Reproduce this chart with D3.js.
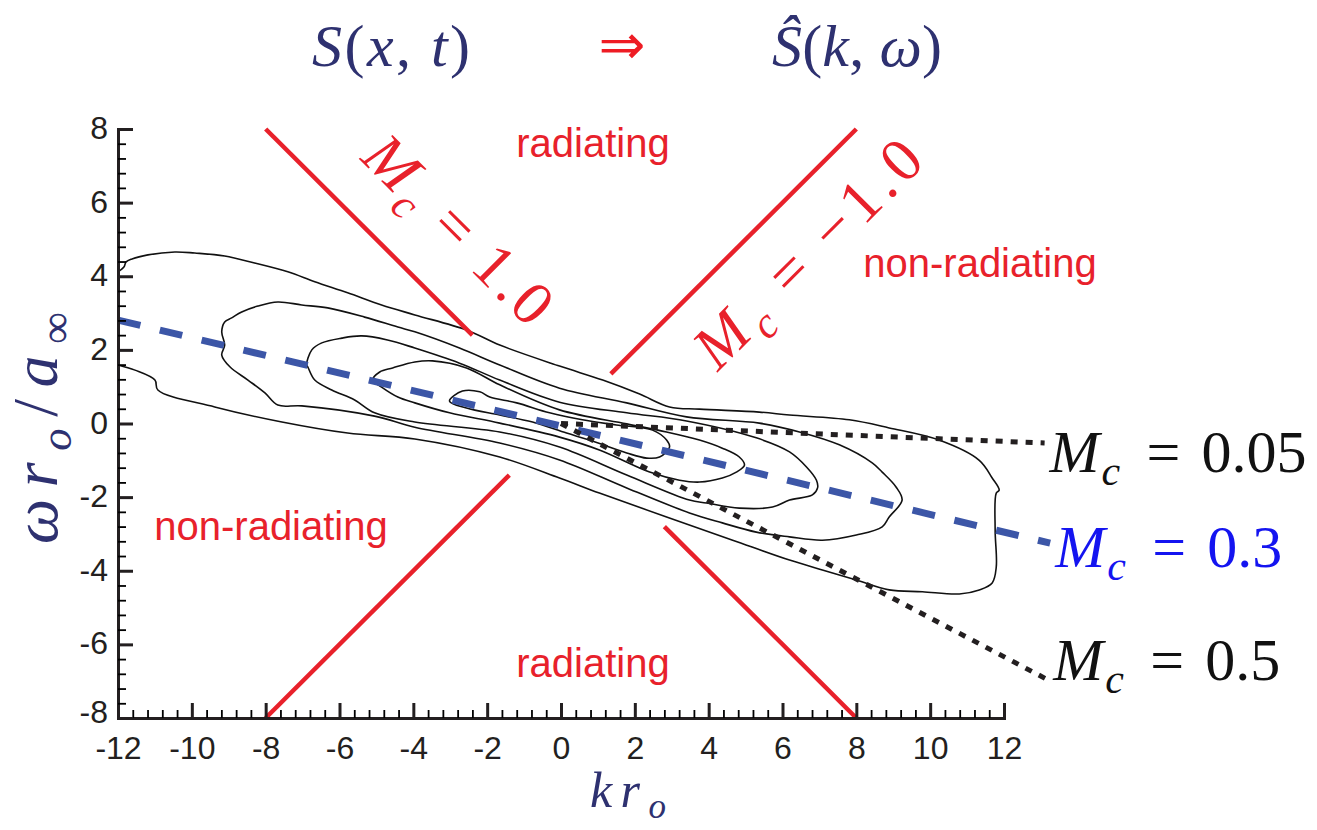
<!DOCTYPE html>
<html>
<head>
<meta charset="utf-8">
<script src="https://cdn.jsdelivr.net/npm/d3@7/dist/d3.min.js"></script>
<style>
  body { margin: 0; background: #fff; }
  svg text { font-family: "Liberation Serif", "Times New Roman", serif; white-space: pre; }
  .tick text { font-family: "Liberation Sans", Arial, sans-serif; font-size: 32px; fill: #231f20; }
  .region { font-family: "Liberation Sans", Arial, sans-serif; font-size: 40px; fill: #e8212b; }
</style>
</head>
<body>
<div id="chart"></div>
<script>
// ===== DATA =====
const kTicks = [-12, -10, -8, -6, -4, -2, 0, 2, 4, 6, 8, 10, 12];
const omegaTicks = [-8, -6, -4, -2, 0, 2, 4, 6, 8];
const minorStep = 0.4;

// contours of |S^(k,w)|, outer -> inner, points are [k r_o, w r_o / a_inf]
const contourOuter = [
  [-12.00, 4.12], [-11.84, 4.25], [-11.78, 4.39], [-11.62, 4.47], [-11.19, 4.58], [-10.46, 4.66],
  [-9.92, 4.63], [-9.11, 4.55], [-8.30, 4.36], [-7.40, 4.12], [-6.67, 3.85], [-5.78, 3.55],
  [-4.86, 3.22], [-3.96, 2.95], [-2.56, 2.54], [-1.66, 2.13], [-0.04, 1.56], [1.13, 1.18],
  [2.13, 0.80], [2.94, 0.45], [3.75, 0.39], [5.37, 0.31], [6.19, 0.23], [7.81, 0.10],
  [8.89, -0.12], [10.24, -0.45], [11.33, -1.00], [11.68, -1.48], [11.87, -1.81], [11.79, -1.89],
  [11.76, -2.89], [11.79, -3.90], [11.68, -4.33], [11.33, -4.52], [10.79, -4.63], [9.79, -4.57],
  [8.89, -4.52], [8.00, -4.25], [7.08, -3.98], [6.19, -3.71], [4.65, -3.17], [2.86, -2.54],
  [1.04, -1.89], [-0.04, -1.48], [-1.66, -0.91], [-3.96, -0.42], [-5.78, -0.26], [-7.56, 0.04],
  [-9.38, 0.45], [-10.92, 0.91], [-11.00, 1.18], [-11.54, 1.45], [-12.00, 1.59]
];
const contourLevel2 = [
  [-9.19, 2.49], [-9.11, 2.76], [-8.92, 2.87], [-8.65, 3.03], [-8.21, 3.19], [-7.67, 3.30],
  [-7.02, 3.22], [-6.32, 3.14], [-5.32, 2.89], [-4.42, 2.62], [-3.96, 2.49], [-2.75, 2.05],
  [-1.66, 1.59], [-0.04, 0.96], [1.78, 0.56], [3.40, 0.18], [5.37, 0.01], [6.46, -0.23],
  [7.54, -0.58], [8.43, -1.07], [8.70, -1.32], [9.08, -1.73], [9.24, -2.08], [8.89, -2.54],
  [8.70, -2.81], [8.00, -3.03], [7.08, -3.17], [6.19, -3.08], [5.29, -2.95], [4.37, -2.70],
  [3.48, -2.43], [1.78, -1.75], [-0.04, -0.99], [-1.66, -0.53], [-3.96, -0.10], [-5.05, 0.20],
  [-7.02, 0.48], [-7.67, 0.50], [-8.02, 0.83], [-8.48, 1.18], [-8.97, 1.54], [-9.19, 1.86],
  [-9.11, 2.13]
];
const contourLevel3 = [
  [-6.89, 1.59], [-6.75, 2.00], [-6.48, 2.19], [-5.94, 2.32], [-5.40, 2.38], [-4.70, 2.27],
  [-3.96, 2.05], [-2.75, 1.64], [-1.66, 1.18], [-0.04, 0.58], [1.78, 0.29], [3.40, 0.07],
  [5.29, -0.39], [6.19, -0.77], [6.65, -1.18], [6.92, -1.54], [6.95, -1.75], [6.81, -1.94],
  [6.19, -2.08], [5.73, -2.27], [4.83, -2.30], [3.94, -2.16], [3.48, -2.08], [1.78, -1.40],
  [-0.04, -0.64], [-1.66, -0.23], [-3.96, 0.04], [-5.05, 0.29], [-5.59, 0.64], [-6.21, 0.91],
  [-6.67, 1.18], [-6.86, 1.54]
];
const contourLevel4 = [
  [-5.10, 1.18], [-4.91, 1.40], [-4.56, 1.51], [-3.96, 1.67], [-3.48, 1.70], [-2.56, 1.51],
  [-1.66, 1.05], [-0.04, 0.37], [1.78, -0.01], [2.86, -0.23], [3.75, -0.45], [4.37, -0.67],
  [4.83, -0.91], [4.97, -1.13], [4.75, -1.32], [4.37, -1.48], [3.75, -1.59], [3.21, -1.54],
  [2.40, -1.32], [1.04, -0.72], [-0.04, -0.37], [-1.66, 0.01], [-3.02, 0.29], [-3.96, 0.56],
  [-4.42, 0.72], [-4.86, 0.99]
];
const contourLevel5 = [
  [-3.02, 0.61], [-2.67, 0.88], [-2.20, 0.86], [-1.93, 0.72], [-1.20, 0.56], [-0.31, 0.29],
  [0.58, 0.10], [1.50, -0.04], [2.48, -0.18], [2.86, -0.45], [2.94, -0.64], [2.67, -0.91],
  [2.32, -0.94], [1.78, -0.80], [0.77, -0.45], [0.15, -0.26], [-0.77, 0.04], [-1.66, 0.23],
  [-2.56, 0.42]
];

// sonic lines w = +/- k  (M_c = +/-1)
const sonicLines = [
  [[-8, 8], [-2.4, 2.4]],
  [[1.35, 1.35], [8, 8]],
  [[-8, -8], [-1.4, -1.4]],
  [[2.8, -2.8], [8, -8]]
];

// convection speed lines
const convLabels = ['0.05', '0.3', '0.5'];
const convLines = [
  [[0, 0], [13.1, -0.53]],
  [[-12, 2.81], [13.25, -3.25]],
  [[0, 0], [13.2, -6.97]]
];

const regionLabels = ['radiating', 'non-radiating', 'non-radiating', 'radiating'];

// ===== CHART =====
const W = 1317, H = 830;
const RED = '#e8212b', NAVY = '#2e3170', BLUE = '#3c56a7';

const svg = d3.select('#chart').append('svg')
  .attr('width', W)
  .attr('height', H);

const x = d3.scaleLinear().domain([-12, 12]).range([118, 1004]);
const y = d3.scaleLinear().domain([-8, 8]).range([718, 129]);

const line = d3.line().x(d => x(d[0])).y(d => y(d[1]));

// contours
const openCurve = d3.line().x(d => x(d[0])).y(d => y(d[1])).curve(d3.curveCatmullRom.alpha(0.5));
const closedCurve = d3.line().x(d => x(d[0])).y(d => y(d[1])).curve(d3.curveCatmullRomClosed.alpha(0.5));

const contours = svg.append('g')
  .attr('fill', 'none')
  .attr('stroke', '#111')
  .attr('stroke-width', 1.6);

contours.append('path').attr('d', openCurve(contourOuter));
[contourLevel2, contourLevel3, contourLevel4, contourLevel5].forEach(c => {
  contours.append('path').attr('d', closedCurve(c));
});

// red sonic lines
svg.append('g').selectAll('path')
  .data(sonicLines)
  .join('path')
  .attr('d', line)
  .attr('stroke', RED)
  .attr('stroke-width', 4.5)
  .attr('fill', 'none');

// convection lines: blue dashed for 0.3, black dotted for the others
svg.append('g').selectAll('path')
  .data(convLines)
  .join('path')
  .attr('d', line)
  .attr('fill', 'none')
  .attr('stroke', (d, i) => i === 1 ? BLUE : '#231f20')
  .attr('stroke-width', (d, i) => i === 1 ? 7 : 5)
  .attr('stroke-dasharray', (d, i) => i === 1 ? '23,20' : '7,8');

// ===== AXES =====
function minorVals(lo, hi) {
  const n = Math.round((hi - lo) / minorStep);
  return d3.range(0, n + 1).map(i => lo + i * minorStep)
    .filter(v => Math.abs(v / 2 - Math.round(v / 2)) > 0.01);
}

const xAxis = svg.append('g')
  .attr('transform', `translate(0,${y(-8)})`)
  .call(d3.axisBottom(x).tickValues(kTicks).tickSize(-15).tickSizeOuter(0)
    .tickPadding(18).tickFormat(d => String(d)));

svg.append('g')
  .attr('transform', `translate(0,${y(-8)})`)
  .call(d3.axisBottom(x).tickValues(minorVals(-12, 12)).tickSize(-8).tickFormat(''))
  .call(g => g.select('.domain').remove())
  .selectAll('line').attr('stroke-width', 1.8);

const yAxis = svg.append('g')
  .attr('transform', `translate(${x(-12)},0)`)
  .call(d3.axisLeft(y).tickValues(omegaTicks).tickSize(-15).tickSizeOuter(0)
    .tickPadding(10).tickFormat(d => String(d)));

svg.append('g')
  .attr('transform', `translate(${x(-12)},0)`)
  .call(d3.axisLeft(y).tickValues(minorVals(-8, 8)).tickSize(-8).tickFormat(''))
  .call(g => g.select('.domain').remove())
  .selectAll('line').attr('stroke-width', 1.8);

[xAxis, yAxis].forEach(a => {
  a.select('.domain').attr('stroke', '#231f20').attr('stroke-width', 3).attr('stroke-linecap', 'square');
  a.selectAll('.tick line').attr('stroke', '#231f20').attr('stroke-width', 3);
});
// bottom label sits a little higher so it clears the -12 of the k axis
yAxis.selectAll('.tick text').attr('dy', d => d === -8 ? '0.15em' : '0.3em');

// ===== TEXT =====
function mathLabel(sel, parts, fs) {
  const t = sel.append('text').attr('font-size', fs);
  let shifted = 0;
  parts.forEach(p => {
    const ts = t.append('tspan').text(p.t);
    if (p.it) ts.attr('font-style', 'italic');
    const want = p.sub ? fs * 0.22 : 0;
    if (want !== shifted) { ts.attr('dy', want - shifted); shifted = want; }
    if (p.sub) ts.attr('font-size', fs * 0.7);
    if (p.x != null) ts.attr('x', p.x);
  });
  return t;
}

// title
mathLabel(svg, [{ t: 'S', it: 1 }, { t: '(' }, { t: 'x', it: 1 }, { t: ', ' }, { t: 't', it: 1 }, { t: ')' }], 60)
  .attr('x', 312).attr('y', 66).attr('fill', NAVY)
  .attr('textLength', 158).attr('lengthAdjust', 'spacing');

svg.append('text')
  .attr('x', 622).attr('y', 64)
  .attr('text-anchor', 'middle')
  .style('font-family', '"DejaVu Sans", sans-serif')
  .attr('font-size', 56)
  .attr('fill', '#ee1c24')
  .text('\u21D2');

mathLabel(svg, [{ t: 'Ŝ', it: 1 }, { t: '(' }, { t: 'k', it: 1 }, { t: ', ' }, { t: 'ω', it: 1 }, { t: ')' }], 60)
  .attr('x', 772).attr('y', 66).attr('fill', NAVY)
  .attr('textLength', 170).attr('lengthAdjust', 'spacing');

// axis titles
mathLabel(svg, [{ t: 'k', it: 1 }, { t: 'r', it: 1 }, { t: 'o', it: 1, sub: 1 }], 50)
  .attr('x', 628).attr('y', 807).attr('fill', NAVY)
  .attr('text-anchor', 'middle')
  .attr('textLength', 76).attr('lengthAdjust', 'spacing');

mathLabel(svg.append('g').attr('transform', 'translate(57,428) rotate(-90)'),
  [{ t: 'ω', it: 1 }, { t: 'r', it: 1 }, { t: 'o', it: 1, sub: 1 }, { t: '/' }, { t: 'a', it: 1 }, { t: '∞', sub: 1 }], 64)
  .attr('fill', NAVY)
  .attr('text-anchor', 'middle')
  .attr('textLength', 232).attr('lengthAdjust', 'spacing');

// region labels
const regionPos = [[593, 157], [980, 277], [271, 540], [593, 677]];
svg.append('g').selectAll('text')
  .data(regionLabels)
  .join('text')
  .attr('class', 'region')
  .attr('x', (d, i) => regionPos[i][0])
  .attr('y', (d, i) => regionPos[i][1])
  .attr('text-anchor', 'middle')
  .text(d => d);

// sonic line labels
mathLabel(svg.append('g').attr('transform', 'translate(444,244) rotate(45)'),
  [{ t: 'M', it: 1 }, { t: 'c', it: 1, sub: 1 }, { t: ' = 1.0' }], 62)
  .attr('fill', RED)
  .attr('text-anchor', 'middle')
  .attr('textLength', 240).attr('lengthAdjust', 'spacing');

mathLabel(svg.append('g').attr('transform', 'translate(822,268) rotate(-45)'),
  [{ t: 'M', it: 1 }, { t: 'c', it: 1, sub: 1 }, { t: ' = \u22121.0' }], 62)
  .attr('fill', RED)
  .attr('text-anchor', 'middle')
  .attr('textLength', 295).attr('lengthAdjust', 'spacing');

// convection line labels, at the end of each line
const labelBase = [472, 567, 680];
convLabels.forEach((lab, i) => {
  const x0 = x(convLines[i][1][0]) + 5;
  mathLabel(svg, [
    { t: 'M', it: 1, x: x0 },
    { t: 'c', it: 1, sub: 1, x: x0 + 52 },
    { t: '=', x: x0 + 97 },
    { t: lab, x: x0 + 152 }
  ], 60)
    .attr('y', labelBase[i])
    .attr('fill', i === 1 ? '#1414f0' : '#111');
});
</script>
</body>
</html>
